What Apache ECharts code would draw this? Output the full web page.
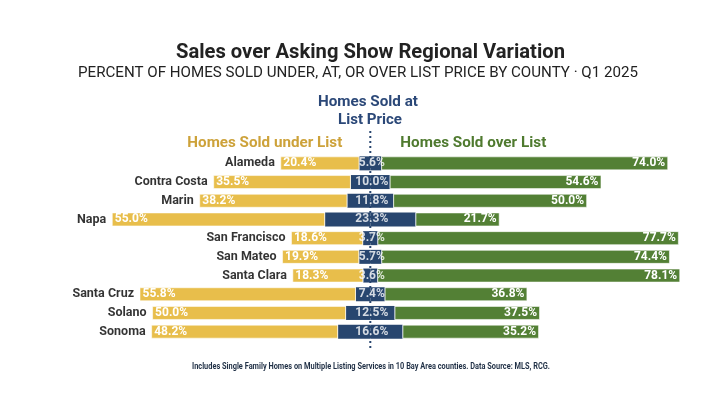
<!DOCTYPE html>
<html>
<head>
<meta charset="utf-8">
<script src="https://cdn.jsdelivr.net/npm/echarts@6/dist/echarts.min.js"></script>
<style>
  html, body { margin: 0; padding: 0; background: #fff; }
  #chart { width: 716px; height: 396px; }
</style>
</head>
<body>
<div id="chart"></div>
<script>
  // values, % of homes sold
  const counties = ['Alameda', 'Contra Costa', 'Marin', 'Napa', 'San Francisco', 'San Mateo', 'Santa Clara', 'Santa Cruz', 'Solano', 'Sonoma']
  const underList = [20.4, 35.5, 38.2, 55.0, 18.6, 19.9, 18.3, 55.8, 50.0, 48.2]
  const atList = [5.6, 10.0, 11.8, 23.3, 3.7, 5.7, 3.6, 7.4, 12.5, 16.6]
  const overList = [74.0, 54.6, 50.0, 21.7, 77.7, 74.4, 78.1, 36.8, 37.5, 35.2]

  const LABEL_FONT = 'Roboto, sans-serif'
  const YELLOW = '#e8be4b'
  const BLUE = '#28466f'
  const GREEN = '#538035'
  const pct = v => v.toFixed(1) + '%'

  // the reference uses a condensed face, so squeeze free text to its measured width
  const measureCtx = document.createElement('canvas').getContext('2d')
  function fitText (text, font, width, props) {
    measureCtx.font = font
    const w = measureCtx.measureText(text).width
    return Object.assign({ type: 'text', scaleX: width / w }, props, {
      style: Object.assign({ text, font, verticalAlign: 'middle' }, props.style)
    })
  }

  const chart = echarts.init(document.getElementById('chart'))

  const barLabel = {
    show: true,
    color: '#fff',
    fontFamily: LABEL_FONT,
    fontWeight: 'bold',
    fontSize: 12,
    distance: 3
  }

  const option = {
    animation: false,
    grid: { left: 60, right: 16, top: 154, height: 187 },
    xAxis: {
      type: 'value',
      min: -80,
      max: 85,
      show: false
    },
    yAxis: {
      type: 'category',
      data: counties,
      inverse: true,
      show: false
    },
    series: [
      {
        name: 'atLeft',
        type: 'bar',
        stack: 'total',
        barWidth: 14,
        itemStyle: { color: BLUE },
        data: atList.map(v => -v / 2)
      },
      {
        name: 'Homes Sold under List',
        type: 'bar',
        stack: 'total',
        barWidth: 14,
        itemStyle: { color: YELLOW, borderColor: 'rgba(255,255,255,0.55)', borderWidth: 1 },
        label: Object.assign({}, barLabel, {
          position: 'insideLeft',
          formatter: p => pct(underList[p.dataIndex])
        }),
        data: underList.map(v => -v)
      },
      {
        name: 'atRight',
        type: 'bar',
        stack: 'total',
        barWidth: 14,
        itemStyle: { color: BLUE },
        data: atList.map(v => v / 2)
      },
      {
        name: 'Homes Sold over List',
        type: 'bar',
        stack: 'total',
        barWidth: 14,
        itemStyle: { color: GREEN, borderColor: 'rgba(255,255,255,0.55)', borderWidth: 1 },
        label: Object.assign({}, barLabel, {
          position: 'insideRight',
          formatter: p => pct(p.value)
        }),
        data: overList
      },
      {
        // label for the at-list share, centred on the zero line
        name: 'atLabel',
        type: 'scatter',
        symbolSize: 1,
        itemStyle: { color: 'transparent' },
        z: 5,
        label: Object.assign({}, barLabel, {
          position: 'inside',
          offset: [1.5, 0],
          formatter: p => pct(atList[p.dataIndex])
        }),
        data: atList.map((v, i) => [0, counties[i]])
      },
      {
        // county names sit just left of each bar
        name: 'county',
        type: 'scatter',
        symbolSize: 1,
        itemStyle: { color: 'transparent' },
        label: {
          show: true,
          position: 'left',
          distance: 5,
          color: '#000',
          fontFamily: LABEL_FONT,
          fontWeight: 'bold',
          fontSize: 12.5,
          formatter: p => counties[p.dataIndex]
        },
        data: underList.map((v, i) => [-(v + atList[i] / 2), counties[i]])
      }
    ]
  }

  chart.setOption(option)

  // headers and the dotted zero line hang off the x scale
  const cx = chart.convertToPixel({ xAxisIndex: 0 }, 0)
  chart.setOption({
    graphic: [
      {
        type: 'line',
        z: 0,
        shape: { x1: cx, y1: 131, x2: cx, y2: 351 },
        style: { stroke: BLUE, lineWidth: 2, lineDash: [2, 3] }
      },
      fitText('Sales over Asking Show Regional Variation', 'bold 21px Roboto', 389, {
        x: 370.5, y: 52.5, style: { align: 'center', fill: '#222' }
      }),
      fitText('PERCENT OF HOMES SOLD UNDER, AT, OR OVER LIST PRICE BY COUNTY · Q1 2025', '14px Roboto', 560, {
        x: 358, y: 73.5, style: { align: 'center', fill: '#222' }
      }),
      fitText('Homes Sold at', 'bold 15px Roboto', 100, {
        x: 368, y: 102.5, style: { align: 'center', fill: '#2b4878' }
      }),
      fitText('List Price', 'bold 15px Roboto', 64, {
        x: 370, y: 120.5, style: { align: 'center', fill: '#2b4878' }
      }),
      fitText('Homes Sold under List', 'bold 15px Roboto', 155, {
        x: cx - 28, y: 143, style: { align: 'right', fill: '#cda23a' }
      }),
      fitText('Homes Sold over List', 'bold 15px Roboto', 146, {
        x: cx + 30, y: 143, style: { align: 'left', fill: '#4f7a2f' }
      }),
      fitText('Includes Single Family Homes on Multiple Listing Services in 10 Bay Area counties. Data Source: MLS, RCG.', 'bold 8.5px Roboto', 358, {
        x: 192, y: 366.5, style: { align: 'left', fill: '#1f2f45' }
      })
    ]
  })
</script>
</body>
</html>
